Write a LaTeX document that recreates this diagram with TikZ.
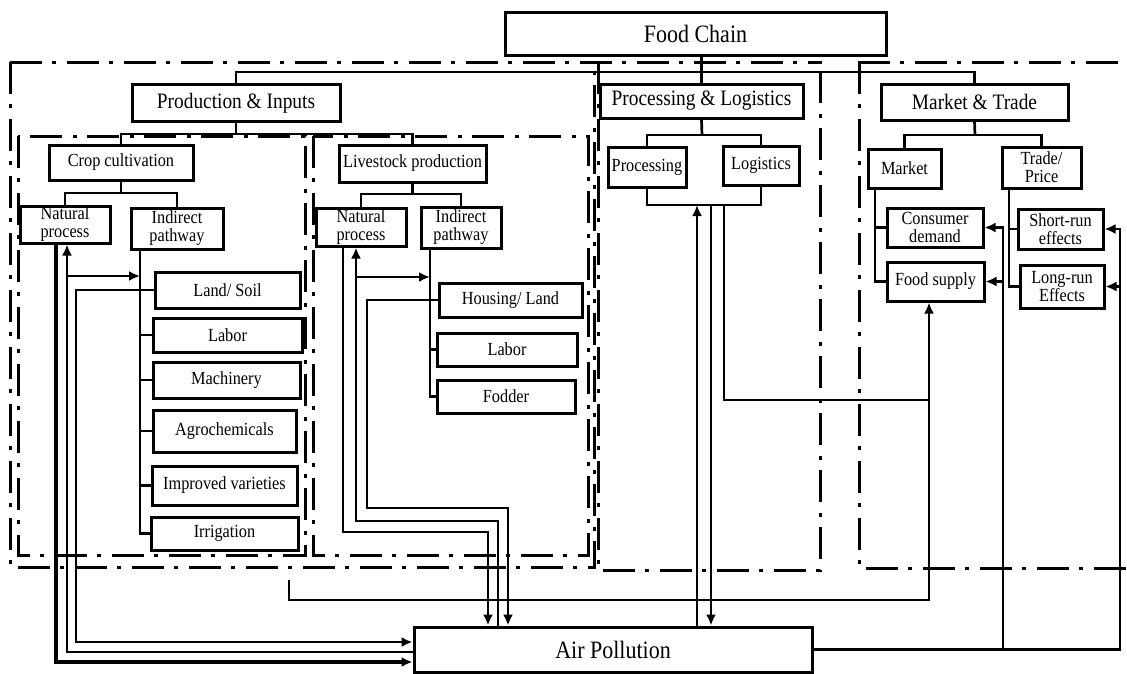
\documentclass[tikz,border=0pt]{standalone}
\usepackage{fontspec}
\setmainfont{Liberation Serif}[FakeStretch=0.88]
\usetikzlibrary{arrows.meta}
\newcommand\fsmall{\fontsize{18.5}{18}\selectfont}
\newcommand\fmid{\fontsize{22}{23}\selectfont}
\newcommand\fbig{\fontsize{25}{26}\selectfont}
\tikzset{
  box/.style={draw, fill=white, line width=3pt, inner sep=0pt, align=center, font=\fsmall},
  conn/.style={line width=2.7pt},
  arr/.style={conn, -{Latex[length=11pt,width=10pt]}},
  dashdot/.style={line width=3pt, dash pattern=on 32pt off 10pt on 4pt off 11pt},
}
\begin{document}
\begin{tikzpicture}[x=1pt,y=-1pt]
	\useasboundingbox (0,0) rectangle (1127,673);
	\draw[dashdot] (10,62) -- (822,62);
	\draw[dashdot] (858,62) -- (1127,62);
	\draw[dashdot] (10,62) -- (10,567) -- (594,567) -- (594,62);
	\draw[dashdot] (18,136) rectangle (305,555);
	\draw[dashdot] (313,136) rectangle (588,555);
	\draw[dashdot] (598,62) -- (598,570) -- (820,570) -- (820,62);
	\draw[dashdot] (859,62) -- (859,568) -- (1127,568);

	\node (fc) [box, font=\fbig, minimum width=381pt, minimum height=43pt] at (695.5,33.5) {Food Chain};
	\node (pi) [box, font=\fmid, minimum width=208pt, minimum height=37pt] at (236,103) {Production \& Inputs};
	\node (pl) [box, font=\fmid, minimum width=203pt, minimum height=34pt] at (701.5,101) {Processing \& Logistics};
	\node (mt) [box, font=\fmid, minimum width=187pt, minimum height=36pt] at (974.5,102) {Market \& Trade};
	\node (crop) [box, minimum width=144pt, minimum height=35pt] at (121,162.5) {Crop cultivation};
	\node (live) [box, minimum width=147pt, minimum height=37pt] at (412.5,163.5) {Livestock production};
	\node (ncrop) [box, minimum width=90pt, minimum height=37pt] at (65,224.5) {Natural\\process};
	\node (icrop) [box, minimum width=92pt, minimum height=41pt] at (177,228.5) {Indirect\\pathway};
	\node (land) [box, minimum width=145pt, minimum height=36pt] at (227.5,290) {Land/ Soil};
	\node (lab1) [box, minimum width=149pt, minimum height=34pt] at (227.5,335) {Labor};
	\node (mach) [box, minimum width=147pt, minimum height=36pt] at (226.5,380) {Machinery};
	\node (agro) [box, minimum width=143pt, minimum height=42pt] at (224.5,431) {Agrochemicals};
	\node (impr) [box, minimum width=145pt, minimum height=39pt] at (224.5,485.5) {Improved varieties};
	\node (irri) [box, minimum width=147pt, minimum height=33pt] at (224.5,533.5) {Irrigation};
	\node (nlive) [box, minimum width=90pt, minimum height=38pt] at (361,227) {Natural\\process};
	\node (ilive) [box, minimum width=80pt, minimum height=41pt] at (461,227.5) {Indirect\\pathway};
	\node (hous) [box, minimum width=143pt, minimum height=34pt] at (510.5,300) {Housing/ Land};
	\node (lab2) [box, minimum width=140pt, minimum height=33pt] at (507,349.5) {Labor};
	\node (fodd) [box, minimum width=138pt, minimum height=33pt] at (506,396.5) {Fodder};
	\node (proc) [box, minimum width=78pt, minimum height=40pt] at (647,167) {Processing};
	\node (logi) [box, minimum width=76pt, minimum height=39pt] at (761,165.5) {Logistics};
	\node (mark) [box, minimum width=73pt, minimum height=39pt] at (904.5,168.5) {Market};
	\node (trade) [box, minimum width=79pt, minimum height=41pt] at (1041.5,167.5) {Trade/\\Price};
	\node (cons) [box, minimum width=96pt, minimum height=39pt] at (935,227.5) {Consumer\\demand};
	\node (fsup) [box, minimum width=97pt, minimum height=39pt] at (935.5,281.5) {Food supply};
	\node (srun) [box, minimum width=85pt, minimum height=40pt] at (1060.5,229) {Short-run\\effects};
	\node (lrun) [box, minimum width=84pt, minimum height=43pt] at (1062,286.5) {Long-run\\Effects};
	\node (air) [box, font=\fbig, minimum width=398pt, minimum height=45pt] at (613,649.5) {Air Pollution};

	\coordinate (topjn) at (702,72);
	\draw[conn] (fc.south -| pl.north) -- (pl.north);
	\draw[conn] (pi.north) |- (topjn) -| (mt.north);
	\coordinate (pijn) at (236,134);
	\draw[conn] (pi.south) -- (pijn);
	\draw[conn] (crop.north) |- (pijn) -| (live.north);
	\coordinate (cropjn) at (121,193);
	\draw[conn] (crop.south) -- (cropjn);
	\draw[conn] (ncrop.north) |- (cropjn) -| (icrop.north);
	\coordinate (livejn) at (412.5,194);
	\draw[conn] (live.south) -- (livejn);
	\draw[conn] (nlive.north) |- (livejn) -| (ilive.north);

	\coordinate (bar1) at (140,0);
	\draw[conn] (icrop.south -| bar1) |- (irri.west);
	\foreach \n in {land,lab1,mach,agro,impr}
		\draw[conn] (bar1 |- \n.west) -- (\n.west);
	\coordinate (bar2) at (430,0);
	\draw[conn] (ilive.south -| bar2) |- (fodd.west);
	\foreach \n in {hous,lab2}
		\draw[conn] (bar2 |- \n.west) -- (\n.west);

	% crop side to and from air pollution
	\coordinate (tA) at (56,0);
	\coordinate (tB) at (67,0);
	\coordinate (tC) at (76,0);
	\draw[arr, line width=3.6pt] (ncrop.south -| tA) |- ([yshift=-12.5pt]air.west);
	\draw[arr] ([yshift=-2.5pt]air.west) -| (ncrop.south -| tB);
	\draw[arr] (tB |- 0,276) -- (bar1 |- 0,276);
	\draw[arr] (bar1 |- land.west) -- (tC |- land.west) |- ([yshift=7.5pt]air.west);

	% livestock side
	\coordinate (tD) at (343,0);
	\coordinate (tE) at (356,0);
	\coordinate (tF) at (367,0);
	\coordinate (kD) at (488,532);
	\coordinate (kE) at (498,521);
	\coordinate (kF) at (508,508);
	\draw[arr] (nlive.south -| tD) |- (kD) -- (kD |- air.north);
	\draw[arr] (kE |- air.north) -- (kE) -| (nlive.south -| tE);
	\draw[arr] (tE |- 0,277) -- (bar2 |- 0,277);
	\draw[arr] (bar2 |- hous.west) -- (tF |- hous.west) |- (kF) -- (kF |- air.north);

	% processing and logistics
	\coordinate (pljn) at (702,135);
	\draw[conn] (pl.south) -- (pljn);
	\draw[conn] (proc.north) |- (pljn) -| (logi.north);
	\coordinate (plbot) at (704,205);
	\draw[conn] (proc.south) |- (plbot) -| (logi.south);
	\coordinate (tP) at (697,0);
	\coordinate (tQ) at (711,0);
	\coordinate (tR) at (724,0);
	\coordinate (tS) at (929,0);
	\draw[arr] (tP |- air.north) -- (tP |- plbot);
	\draw[arr] (tQ |- plbot) -- (tQ |- air.north);
	\draw[conn] (tR |- plbot) |- (tS |- 0,400);
	\coordinate (pfree) at (289,580);
	\draw[arr] (pfree) |- (tS |- 0,600) -- (tS |- fsup.south);

	% market and trade
	\coordinate (mtjn) at (975,135);
	\draw[conn] (mt.south) -- (mtjn);
	\draw[conn] (mark.north) |- (mtjn) -| (trade.north);
	\coordinate (tM) at (875,0);
	\coordinate (tT) at (1009,0);
	\draw[conn] (mark.south -| tM) |- (fsup.west);
	\draw[conn] (tM |- cons.west) -- (cons.west);
	\draw[conn] (trade.south -| tT) |- (lrun.west);
	\draw[conn] (tT |- srun.west) -- (srun.west);
	\coordinate (tU) at (1003,0);
	\coordinate (tV) at (1120,0);
	\draw[arr] (air.east) -| (tU |- cons.east) -- (cons.east);
	\draw[arr] (tU |- fsup.east) -- (fsup.east);
	\draw[arr] (tU |- air.east) -| (tV |- srun.east) -- (srun.east);
	\draw[arr] (tV |- lrun.east) -- (lrun.east);
\end{tikzpicture}
\end{document}
